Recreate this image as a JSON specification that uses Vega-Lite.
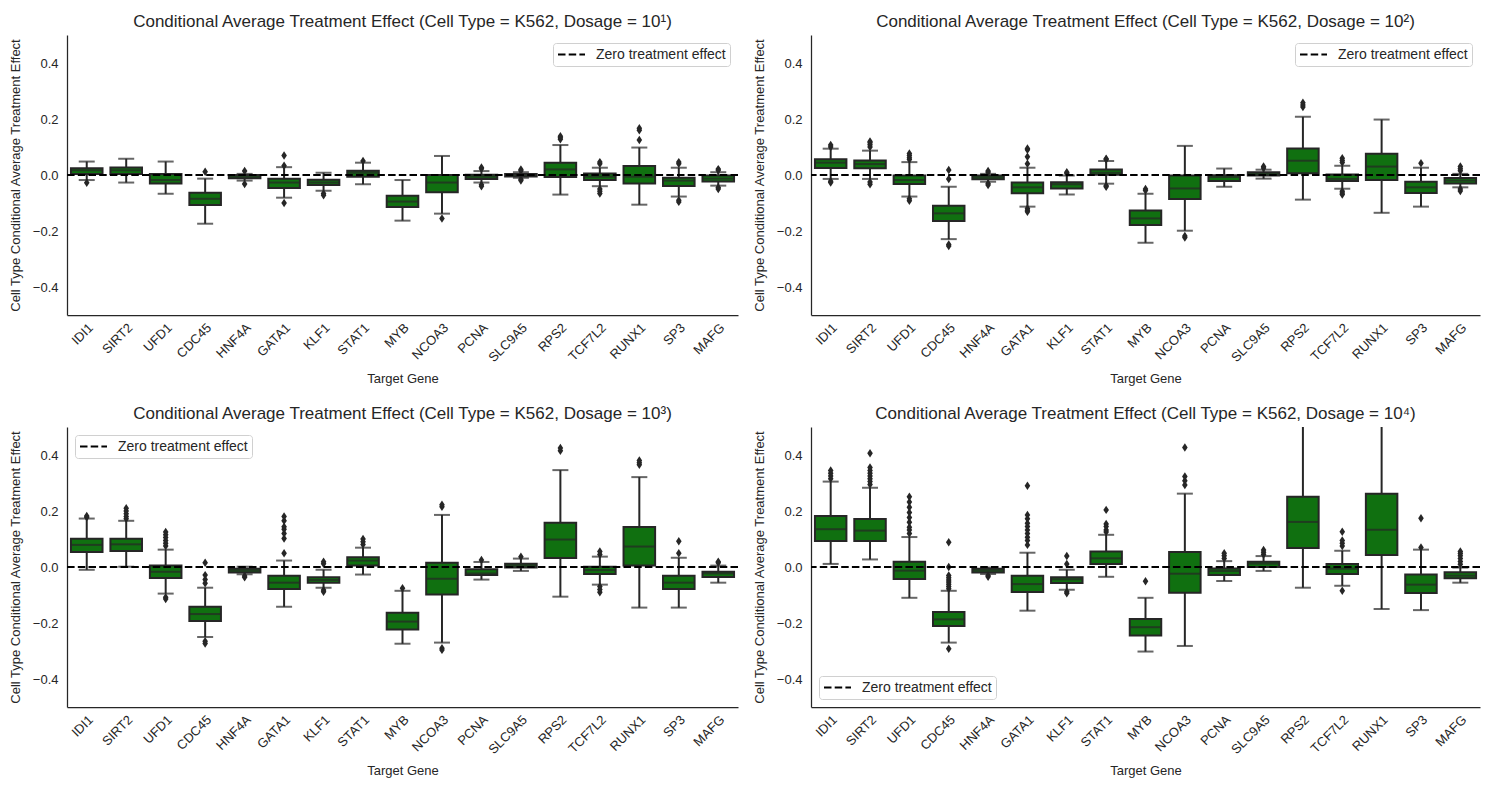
{
  "$schema": "https://vega.github.io/schema/vega-lite/v6.json",
  "background": "white",
  "padding": {"left": 9, "top": 13, "right": 5, "bottom": 5},
  "datasets": {
    "box": [
      {"d":1,"g":"IDI1","lw":-0.018,"q1":0.004,"m":0.017,"q3":0.024,"uw":0.048},
      {"d":1,"g":"SIRT2","lw":-0.027,"q1":0.004,"m":0.017,"q3":0.027,"uw":0.058},
      {"d":1,"g":"UFD1","lw":-0.067,"q1":-0.030,"m":-0.018,"q3":0.004,"uw":0.048},
      {"d":1,"g":"CDC45","lw":-0.174,"q1":-0.107,"m":-0.085,"q3":-0.063,"uw":-0.013},
      {"d":1,"g":"HNF4A","lw":-0.020,"q1":-0.012,"m":-0.006,"q3":0.000,"uw":0.004},
      {"d":1,"g":"GATA1","lw":-0.081,"q1":-0.046,"m":-0.027,"q3":-0.013,"uw":0.028},
      {"d":1,"g":"KLF1","lw":-0.056,"q1":-0.036,"m":-0.027,"q3":-0.017,"uw":0.008},
      {"d":1,"g":"STAT1","lw":-0.033,"q1":-0.006,"m":0.008,"q3":0.015,"uw":0.044},
      {"d":1,"g":"MYB","lw":-0.163,"q1":-0.114,"m":-0.095,"q3":-0.074,"uw":-0.018},
      {"d":1,"g":"NCOA3","lw":-0.138,"q1":-0.062,"m":-0.027,"q3":0.000,"uw":0.068},
      {"d":1,"g":"PCNA","lw":-0.027,"q1":-0.014,"m":-0.006,"q3":0.001,"uw":0.014},
      {"d":1,"g":"SLC9A5","lw":-0.010,"q1":-0.005,"m":0.000,"q3":0.004,"uw":0.010},
      {"d":1,"g":"RPS2","lw":-0.070,"q1":-0.007,"m":0.020,"q3":0.044,"uw":0.107},
      {"d":1,"g":"TCF7L2","lw":-0.040,"q1":-0.018,"m":-0.006,"q3":0.005,"uw":0.026},
      {"d":1,"g":"RUNX1","lw":-0.106,"q1":-0.030,"m":-0.006,"q3":0.032,"uw":0.098},
      {"d":1,"g":"SP3","lw":-0.077,"q1":-0.039,"m":-0.020,"q3":-0.010,"uw":0.026},
      {"d":1,"g":"MAFG","lw":-0.038,"q1":-0.023,"m":-0.013,"q3":-0.002,"uw":0.010},

      {"d":2,"g":"IDI1","lw":-0.014,"q1":0.025,"m":0.044,"q3":0.056,"uw":0.094},
      {"d":2,"g":"SIRT2","lw":-0.014,"q1":0.024,"m":0.039,"q3":0.052,"uw":0.087},
      {"d":2,"g":"UFD1","lw":-0.077,"q1":-0.032,"m":-0.018,"q3":-0.002,"uw":0.046},
      {"d":2,"g":"CDC45","lw":-0.229,"q1":-0.164,"m":-0.137,"q3":-0.110,"uw":-0.042},
      {"d":2,"g":"HNF4A","lw":-0.024,"q1":-0.015,"m":-0.008,"q3":-0.002,"uw":0.004},
      {"d":2,"g":"GATA1","lw":-0.113,"q1":-0.065,"m":-0.044,"q3":-0.027,"uw":0.026},
      {"d":2,"g":"KLF1","lw":-0.070,"q1":-0.048,"m":-0.033,"q3":-0.026,"uw":-0.002},
      {"d":2,"g":"STAT1","lw":-0.031,"q1":0.001,"m":0.008,"q3":0.020,"uw":0.050},
      {"d":2,"g":"MYB","lw":-0.242,"q1":-0.179,"m":-0.155,"q3":-0.127,"uw":-0.067},
      {"d":2,"g":"NCOA3","lw":-0.199,"q1":-0.086,"m":-0.048,"q3":-0.002,"uw":0.104},
      {"d":2,"g":"PCNA","lw":-0.042,"q1":-0.021,"m":-0.007,"q3":-0.001,"uw":0.023},
      {"d":2,"g":"SLC9A5","lw":-0.013,"q1":-0.002,"m":0.004,"q3":0.010,"uw":0.019},
      {"d":2,"g":"RPS2","lw":-0.088,"q1":0.006,"m":0.051,"q3":0.095,"uw":0.208},
      {"d":2,"g":"TCF7L2","lw":-0.049,"q1":-0.021,"m":-0.014,"q3":0.002,"uw":0.033},
      {"d":2,"g":"RUNX1","lw":-0.135,"q1":-0.018,"m":0.030,"q3":0.076,"uw":0.198},
      {"d":2,"g":"SP3","lw":-0.113,"q1":-0.064,"m":-0.044,"q3":-0.024,"uw":0.026},
      {"d":2,"g":"MAFG","lw":-0.044,"q1":-0.030,"m":-0.020,"q3":-0.011,"uw":0.004},

      {"d":3,"g":"IDI1","lw":-0.010,"q1":0.054,"m":0.079,"q3":0.101,"uw":0.173},
      {"d":3,"g":"SIRT2","lw":0.001,"q1":0.057,"m":0.081,"q3":0.101,"uw":0.165},
      {"d":3,"g":"UFD1","lw":-0.095,"q1":-0.039,"m":-0.017,"q3":0.005,"uw":0.062},
      {"d":3,"g":"CDC45","lw":-0.250,"q1":-0.193,"m":-0.168,"q3":-0.142,"uw":-0.074},
      {"d":3,"g":"HNF4A","lw":-0.026,"q1":-0.020,"m":-0.013,"q3":-0.006,"uw":0.001},
      {"d":3,"g":"GATA1","lw":-0.142,"q1":-0.079,"m":-0.056,"q3":-0.031,"uw":0.023},
      {"d":3,"g":"KLF1","lw":-0.074,"q1":-0.056,"m":-0.046,"q3":-0.037,"uw":-0.010},
      {"d":3,"g":"STAT1","lw":-0.027,"q1":0.005,"m":0.023,"q3":0.035,"uw":0.069},
      {"d":3,"g":"MYB","lw":-0.274,"q1":-0.223,"m":-0.195,"q3":-0.163,"uw":-0.085},
      {"d":3,"g":"NCOA3","lw":-0.270,"q1":-0.098,"m":-0.042,"q3":0.015,"uw":0.186},
      {"d":3,"g":"PCNA","lw":-0.045,"q1":-0.029,"m":-0.023,"q3":-0.008,"uw":0.018},
      {"d":3,"g":"SLC9A5","lw":-0.014,"q1":-0.002,"m":0.005,"q3":0.012,"uw":0.030},
      {"d":3,"g":"RPS2","lw":-0.106,"q1":0.032,"m":0.098,"q3":0.158,"uw":0.346},
      {"d":3,"g":"TCF7L2","lw":-0.063,"q1":-0.025,"m":-0.011,"q3":0.001,"uw":0.037},
      {"d":3,"g":"RUNX1","lw":-0.145,"q1":0.005,"m":0.073,"q3":0.143,"uw":0.321},
      {"d":3,"g":"SP3","lw":-0.145,"q1":-0.079,"m":-0.056,"q3":-0.031,"uw":0.033},
      {"d":3,"g":"MAFG","lw":-0.056,"q1":-0.036,"m":-0.023,"q3":-0.017,"uw":0.005},

      {"d":4,"g":"IDI1","lw":0.011,"q1":0.093,"m":0.135,"q3":0.182,"uw":0.305},
      {"d":4,"g":"SIRT2","lw":0.027,"q1":0.093,"m":0.130,"q3":0.171,"uw":0.283},
      {"d":4,"g":"UFD1","lw":-0.110,"q1":-0.043,"m":-0.013,"q3":0.019,"uw":0.107},
      {"d":4,"g":"CDC45","lw":-0.270,"q1":-0.211,"m":-0.187,"q3":-0.161,"uw":-0.085},
      {"d":4,"g":"HNF4A","lw":-0.025,"q1":-0.020,"m":-0.013,"q3":-0.006,"uw":-0.002},
      {"d":4,"g":"GATA1","lw":-0.156,"q1":-0.089,"m":-0.061,"q3":-0.031,"uw":0.051},
      {"d":4,"g":"KLF1","lw":-0.081,"q1":-0.057,"m":-0.044,"q3":-0.037,"uw":-0.010},
      {"d":4,"g":"STAT1","lw":-0.035,"q1":0.011,"m":0.031,"q3":0.055,"uw":0.115},
      {"d":4,"g":"MYB","lw":-0.302,"q1":-0.245,"m":-0.215,"q3":-0.186,"uw":-0.110},
      {"d":4,"g":"NCOA3","lw":-0.282,"q1":-0.092,"m":-0.024,"q3":0.054,"uw":0.262},
      {"d":4,"g":"PCNA","lw":-0.050,"q1":-0.029,"m":-0.014,"q3":-0.005,"uw":0.021},
      {"d":4,"g":"SLC9A5","lw":-0.014,"q1":0.000,"m":0.012,"q3":0.019,"uw":0.039},
      {"d":4,"g":"RPS2","lw":-0.074,"q1":0.068,"m":0.161,"q3":0.251,"uw":0.56},
      {"d":4,"g":"TCF7L2","lw":-0.067,"q1":-0.025,"m":-0.006,"q3":0.011,"uw":0.058},
      {"d":4,"g":"RUNX1","lw":-0.150,"q1":0.043,"m":0.133,"q3":0.262,"uw":0.6},
      {"d":4,"g":"SP3","lw":-0.154,"q1":-0.093,"m":-0.063,"q3":-0.027,"uw":0.062},
      {"d":4,"g":"MAFG","lw":-0.056,"q1":-0.040,"m":-0.031,"q3":-0.019,"uw":-0.002}
    ],
    "out": [
      {"d":1,"g":"IDI1","v":-0.028},
      {"d":1,"g":"CDC45","v":0.012},
      {"d":1,"g":"HNF4A","v":0.014},{"d":1,"g":"HNF4A","v":-0.032},
      {"d":1,"g":"GATA1","v":0.033},{"d":1,"g":"GATA1","v":0.07},{"d":1,"g":"GATA1","v":-0.1},
      {"d":1,"g":"KLF1","v":-0.066},{"d":1,"g":"KLF1","v":-0.072},
      {"d":1,"g":"STAT1","v":0.05},
      {"d":1,"g":"NCOA3","v":-0.155},
      {"d":1,"g":"PCNA","v":0.022},{"d":1,"g":"PCNA","v":0.027},{"d":1,"g":"PCNA","v":-0.035},{"d":1,"g":"PCNA","v":-0.04},
      {"d":1,"g":"SLC9A5","v":0.015},{"d":1,"g":"SLC9A5","v":0.02},{"d":1,"g":"SLC9A5","v":-0.015},{"d":1,"g":"SLC9A5","v":-0.02},
      {"d":1,"g":"RPS2","v":0.128},{"d":1,"g":"RPS2","v":0.133},{"d":1,"g":"RPS2","v":0.138},
      {"d":1,"g":"TCF7L2","v":0.04},{"d":1,"g":"TCF7L2","v":0.046},{"d":1,"g":"TCF7L2","v":-0.05},{"d":1,"g":"TCF7L2","v":-0.058},{"d":1,"g":"TCF7L2","v":-0.066},
      {"d":1,"g":"RUNX1","v":0.125},{"d":1,"g":"RUNX1","v":0.16},{"d":1,"g":"RUNX1","v":0.167},
      {"d":1,"g":"SP3","v":0.04},{"d":1,"g":"SP3","v":0.046},{"d":1,"g":"SP3","v":-0.09},{"d":1,"g":"SP3","v":-0.096},
      {"d":1,"g":"MAFG","v":0.017},{"d":1,"g":"MAFG","v":0.021},{"d":1,"g":"MAFG","v":-0.045},{"d":1,"g":"MAFG","v":-0.05},

      {"d":2,"g":"IDI1","v":0.1},{"d":2,"g":"IDI1","v":0.107},{"d":2,"g":"IDI1","v":-0.022},{"d":2,"g":"IDI1","v":-0.027},
      {"d":2,"g":"SIRT2","v":0.1},{"d":2,"g":"SIRT2","v":0.108},{"d":2,"g":"SIRT2","v":0.115},{"d":2,"g":"SIRT2","v":0.12},{"d":2,"g":"SIRT2","v":-0.025},{"d":2,"g":"SIRT2","v":-0.033},
      {"d":2,"g":"UFD1","v":0.055},{"d":2,"g":"UFD1","v":0.062},{"d":2,"g":"UFD1","v":0.07},{"d":2,"g":"UFD1","v":0.077},{"d":2,"g":"UFD1","v":-0.085},{"d":2,"g":"UFD1","v":-0.092},
      {"d":2,"g":"CDC45","v":0.018},{"d":2,"g":"CDC45","v":-0.014},{"d":2,"g":"CDC45","v":-0.248},{"d":2,"g":"CDC45","v":-0.254},
      {"d":2,"g":"HNF4A","v":0.01},{"d":2,"g":"HNF4A","v":0.014},{"d":2,"g":"HNF4A","v":-0.03},{"d":2,"g":"HNF4A","v":-0.036},
      {"d":2,"g":"GATA1","v":0.04},{"d":2,"g":"GATA1","v":0.065},{"d":2,"g":"GATA1","v":0.09},{"d":2,"g":"GATA1","v":0.095},{"d":2,"g":"GATA1","v":-0.12},{"d":2,"g":"GATA1","v":-0.126},{"d":2,"g":"GATA1","v":-0.131},
      {"d":2,"g":"KLF1","v":0.006},{"d":2,"g":"KLF1","v":0.01},
      {"d":2,"g":"STAT1","v":0.055},{"d":2,"g":"STAT1","v":0.058},{"d":2,"g":"STAT1","v":-0.038},{"d":2,"g":"STAT1","v":-0.042},
      {"d":2,"g":"MYB","v":-0.05},{"d":2,"g":"MYB","v":-0.055},
      {"d":2,"g":"NCOA3","v":-0.218},{"d":2,"g":"NCOA3","v":-0.223},
      {"d":2,"g":"SLC9A5","v":0.025},{"d":2,"g":"SLC9A5","v":0.03},
      {"d":2,"g":"RPS2","v":0.243},{"d":2,"g":"RPS2","v":0.25},{"d":2,"g":"RPS2","v":0.258},
      {"d":2,"g":"TCF7L2","v":0.045},{"d":2,"g":"TCF7L2","v":0.052},{"d":2,"g":"TCF7L2","v":0.06},{"d":2,"g":"TCF7L2","v":-0.058},{"d":2,"g":"TCF7L2","v":-0.064},{"d":2,"g":"TCF7L2","v":-0.07},
      {"d":2,"g":"SP3","v":0.042},
      {"d":2,"g":"MAFG","v":0.015},{"d":2,"g":"MAFG","v":0.022},{"d":2,"g":"MAFG","v":0.03},{"d":2,"g":"MAFG","v":-0.05},{"d":2,"g":"MAFG","v":-0.057},

      {"d":3,"g":"IDI1","v":0.178},{"d":3,"g":"IDI1","v":0.182},
      {"d":3,"g":"SIRT2","v":0.172},{"d":3,"g":"SIRT2","v":0.18},{"d":3,"g":"SIRT2","v":0.19},{"d":3,"g":"SIRT2","v":0.2},{"d":3,"g":"SIRT2","v":0.21},
      {"d":3,"g":"UFD1","v":0.075},{"d":3,"g":"UFD1","v":0.085},{"d":3,"g":"UFD1","v":0.095},{"d":3,"g":"UFD1","v":0.105},{"d":3,"g":"UFD1","v":0.115},{"d":3,"g":"UFD1","v":0.125},{"d":3,"g":"UFD1","v":-0.108},{"d":3,"g":"UFD1","v":-0.114},
      {"d":3,"g":"CDC45","v":0.015},{"d":3,"g":"CDC45","v":-0.029},{"d":3,"g":"CDC45","v":-0.045},{"d":3,"g":"CDC45","v":-0.058},{"d":3,"g":"CDC45","v":-0.265},{"d":3,"g":"CDC45","v":-0.273},
      {"d":3,"g":"HNF4A","v":-0.032},{"d":3,"g":"HNF4A","v":-0.037},
      {"d":3,"g":"GATA1","v":0.049},{"d":3,"g":"GATA1","v":0.102},{"d":3,"g":"GATA1","v":0.12},{"d":3,"g":"GATA1","v":0.135},{"d":3,"g":"GATA1","v":0.144},{"d":3,"g":"GATA1","v":0.165},{"d":3,"g":"GATA1","v":0.18},
      {"d":3,"g":"KLF1","v":0.012},{"d":3,"g":"KLF1","v":0.019},{"d":3,"g":"KLF1","v":-0.082},{"d":3,"g":"KLF1","v":-0.088},
      {"d":3,"g":"STAT1","v":0.08},{"d":3,"g":"STAT1","v":0.09},{"d":3,"g":"STAT1","v":0.1},
      {"d":3,"g":"MYB","v":-0.076},
      {"d":3,"g":"NCOA3","v":0.215},{"d":3,"g":"NCOA3","v":0.222},{"d":3,"g":"NCOA3","v":-0.29},{"d":3,"g":"NCOA3","v":-0.296},
      {"d":3,"g":"PCNA","v":0.025},
      {"d":3,"g":"SLC9A5","v":0.037},
      {"d":3,"g":"RPS2","v":0.415},{"d":3,"g":"RPS2","v":0.425},
      {"d":3,"g":"TCF7L2","v":0.045},{"d":3,"g":"TCF7L2","v":0.055},{"d":3,"g":"TCF7L2","v":-0.07},{"d":3,"g":"TCF7L2","v":-0.08},{"d":3,"g":"TCF7L2","v":-0.09},
      {"d":3,"g":"RUNX1","v":0.365},{"d":3,"g":"RUNX1","v":0.372},{"d":3,"g":"RUNX1","v":0.38},
      {"d":3,"g":"SP3","v":0.049},{"d":3,"g":"SP3","v":0.092},
      {"d":3,"g":"MAFG","v":0.015},{"d":3,"g":"MAFG","v":0.019},

      {"d":4,"g":"IDI1","v":0.315},{"d":4,"g":"IDI1","v":0.325},{"d":4,"g":"IDI1","v":0.335},{"d":4,"g":"IDI1","v":0.345},
      {"d":4,"g":"SIRT2","v":0.295},{"d":4,"g":"SIRT2","v":0.305},{"d":4,"g":"SIRT2","v":0.315},{"d":4,"g":"SIRT2","v":0.325},{"d":4,"g":"SIRT2","v":0.335},{"d":4,"g":"SIRT2","v":0.345},{"d":4,"g":"SIRT2","v":0.355},{"d":4,"g":"SIRT2","v":0.406},
      {"d":4,"g":"UFD1","v":0.12},{"d":4,"g":"UFD1","v":0.132},{"d":4,"g":"UFD1","v":0.142},{"d":4,"g":"UFD1","v":0.16},{"d":4,"g":"UFD1","v":0.177},{"d":4,"g":"UFD1","v":0.195},{"d":4,"g":"UFD1","v":0.213},{"d":4,"g":"UFD1","v":0.232},{"d":4,"g":"UFD1","v":0.251},
      {"d":4,"g":"CDC45","v":0.088},{"d":4,"g":"CDC45","v":0.0},{"d":4,"g":"CDC45","v":-0.03},{"d":4,"g":"CDC45","v":-0.038},{"d":4,"g":"CDC45","v":-0.046},{"d":4,"g":"CDC45","v":-0.054},{"d":4,"g":"CDC45","v":-0.062},{"d":4,"g":"CDC45","v":-0.07},{"d":4,"g":"CDC45","v":-0.078},{"d":4,"g":"CDC45","v":-0.292},
      {"d":4,"g":"HNF4A","v":-0.03},{"d":4,"g":"HNF4A","v":-0.035},
      {"d":4,"g":"GATA1","v":0.079},{"d":4,"g":"GATA1","v":0.095},{"d":4,"g":"GATA1","v":0.106},{"d":4,"g":"GATA1","v":0.12},{"d":4,"g":"GATA1","v":0.132},{"d":4,"g":"GATA1","v":0.145},{"d":4,"g":"GATA1","v":0.156},{"d":4,"g":"GATA1","v":0.172},{"d":4,"g":"GATA1","v":0.186},{"d":4,"g":"GATA1","v":0.29},
      {"d":4,"g":"KLF1","v":0.011},{"d":4,"g":"KLF1","v":0.039},{"d":4,"g":"KLF1","v":-0.088},{"d":4,"g":"KLF1","v":-0.094},
      {"d":4,"g":"STAT1","v":0.125},{"d":4,"g":"STAT1","v":0.132},{"d":4,"g":"STAT1","v":0.145},{"d":4,"g":"STAT1","v":0.154},{"d":4,"g":"STAT1","v":0.204},
      {"d":4,"g":"MYB","v":-0.051},
      {"d":4,"g":"NCOA3","v":0.293},{"d":4,"g":"NCOA3","v":0.308},{"d":4,"g":"NCOA3","v":0.323},{"d":4,"g":"NCOA3","v":0.427},
      {"d":4,"g":"PCNA","v":0.03},{"d":4,"g":"PCNA","v":0.04},{"d":4,"g":"PCNA","v":0.049},
      {"d":4,"g":"SLC9A5","v":0.045},{"d":4,"g":"SLC9A5","v":0.053},{"d":4,"g":"SLC9A5","v":0.061},
      {"d":4,"g":"TCF7L2","v":0.075},{"d":4,"g":"TCF7L2","v":0.085},{"d":4,"g":"TCF7L2","v":0.095},{"d":4,"g":"TCF7L2","v":0.126},{"d":4,"g":"TCF7L2","v":-0.085},
      {"d":4,"g":"SP3","v":0.07},{"d":4,"g":"SP3","v":0.174},
      {"d":4,"g":"MAFG","v":0.01},{"d":4,"g":"MAFG","v":0.02},{"d":4,"g":"MAFG","v":0.03},{"d":4,"g":"MAFG","v":0.04},{"d":4,"g":"MAFG","v":0.048},{"d":4,"g":"MAFG","v":0.055}
    ]
  },
  "columns": 2,
  "spacing": {"row": 19, "column": 14},
  "resolve": {"legend": {"strokeDash": "independent"}},
  "concat": [
    {
      "title": "Conditional Average Treatment Effect (Cell Type = K562, Dosage = 10¹)",
      "width": 671, "height": 280,
      "layer": [
        {
          "data": {"name": "box"},
          "transform": [{"filter": "datum.d == 1"}],
          "encoding": {"x": {"field": "g", "type": "nominal", "title": "Target Gene", "scale": {"domain": ["IDI1","SIRT2","UFD1","CDC45","HNF4A","GATA1","KLF1","STAT1","MYB","NCOA3","PCNA","SLC9A5","RPS2","TCF7L2","RUNX1","SP3","MAFG"], "paddingInner": 0.2, "paddingOuter": 0.1}, "axis": {"labelAngle": -45, "encode": {"labels": {"update": {"dx": {"signal": "2.05*length(datum.label)-3.25"}, "dy": {"signal": "2.05*length(datum.label)-3.25"}}}}}}},
          "layer": [
            {"mark": {"type": "rule", "color": "#262626", "strokeWidth": 2, "clip": true}, "encoding": {"y": {"field": "lw", "type": "quantitative", "title": "Cell Type Conditional Average Treatment Effect", "scale": {"domain": [-0.5, 0.5], "nice": false, "zero": false}, "axis": {"values": [-0.4, -0.2, 0, 0.2, 0.4], "format": ".1f"}}, "y2": {"field": "uw"}}},
            {"mark": {"type": "tick", "color": "#262626", "thickness": 2, "size": 16, "clip": true}, "encoding": {"y": {"field": "lw", "type": "quantitative", "title": "Cell Type Conditional Average Treatment Effect"}}},
            {"mark": {"type": "tick", "color": "#262626", "thickness": 2, "size": 16, "clip": true}, "encoding": {"y": {"field": "uw", "type": "quantitative", "title": "Cell Type Conditional Average Treatment Effect"}}},
            {"mark": {"type": "bar", "fill": "#107010", "stroke": "#262626", "strokeWidth": 2}, "encoding": {"y": {"field": "q1", "type": "quantitative", "title": "Cell Type Conditional Average Treatment Effect"}, "y2": {"field": "q3"}}},
            {"mark": {"type": "tick", "color": "#262626", "thickness": 2, "size": 31}, "encoding": {"y": {"field": "m", "type": "quantitative", "title": "Cell Type Conditional Average Treatment Effect"}}},
            {"data": {"name": "out"}, "transform": [{"filter": "datum.d == 1"}], "mark": {"type": "point", "shape": "M0,-1L0.66,0L0,1L-0.66,0Z", "filled": true, "color": "#262626", "opacity": 1, "size": 72}, "encoding": {"y": {"field": "v", "type": "quantitative", "title": "Cell Type Conditional Average Treatment Effect"}}}
          ]
        },
        {
          "data": {"values": [{"s": "Zero treatment effect"}]},
          "mark": {"type": "rule", "color": "black", "strokeWidth": 2},
          "encoding": {"y": {"datum": 0, "type": "quantitative", "title": "Cell Type Conditional Average Treatment Effect"}, "strokeDash": {"field": "s", "type": "nominal", "scale": {"range": [[7.5, 3.2]]}, "legend": {"title": null, "orient": "top-right"}}}
        }
      ]
    },
    {
      "title": "Conditional Average Treatment Effect (Cell Type = K562, Dosage = 10²)",
      "width": 669, "height": 280,
      "layer": [
        {
          "data": {"name": "box"},
          "transform": [{"filter": "datum.d == 2"}],
          "encoding": {"x": {"field": "g", "type": "nominal", "title": "Target Gene", "scale": {"domain": ["IDI1","SIRT2","UFD1","CDC45","HNF4A","GATA1","KLF1","STAT1","MYB","NCOA3","PCNA","SLC9A5","RPS2","TCF7L2","RUNX1","SP3","MAFG"], "paddingInner": 0.2, "paddingOuter": 0.1}, "axis": {"labelAngle": -45, "encode": {"labels": {"update": {"dx": {"signal": "2.05*length(datum.label)-3.25"}, "dy": {"signal": "2.05*length(datum.label)-3.25"}}}}}}},
          "layer": [
            {"mark": {"type": "rule", "color": "#262626", "strokeWidth": 2, "clip": true}, "encoding": {"y": {"field": "lw", "type": "quantitative", "title": "Cell Type Conditional Average Treatment Effect", "scale": {"domain": [-0.5, 0.5], "nice": false, "zero": false}, "axis": {"values": [-0.4, -0.2, 0, 0.2, 0.4], "format": ".1f"}}, "y2": {"field": "uw"}}},
            {"mark": {"type": "tick", "color": "#262626", "thickness": 2, "size": 16, "clip": true}, "encoding": {"y": {"field": "lw", "type": "quantitative", "title": "Cell Type Conditional Average Treatment Effect"}}},
            {"mark": {"type": "tick", "color": "#262626", "thickness": 2, "size": 16, "clip": true}, "encoding": {"y": {"field": "uw", "type": "quantitative", "title": "Cell Type Conditional Average Treatment Effect"}}},
            {"mark": {"type": "bar", "fill": "#107010", "stroke": "#262626", "strokeWidth": 2}, "encoding": {"y": {"field": "q1", "type": "quantitative", "title": "Cell Type Conditional Average Treatment Effect"}, "y2": {"field": "q3"}}},
            {"mark": {"type": "tick", "color": "#262626", "thickness": 2, "size": 31}, "encoding": {"y": {"field": "m", "type": "quantitative", "title": "Cell Type Conditional Average Treatment Effect"}}},
            {"data": {"name": "out"}, "transform": [{"filter": "datum.d == 2"}], "mark": {"type": "point", "shape": "M0,-1L0.66,0L0,1L-0.66,0Z", "filled": true, "color": "#262626", "opacity": 1, "size": 72}, "encoding": {"y": {"field": "v", "type": "quantitative", "title": "Cell Type Conditional Average Treatment Effect"}}}
          ]
        },
        {
          "data": {"values": [{"s": "Zero treatment effect"}]},
          "mark": {"type": "rule", "color": "black", "strokeWidth": 2},
          "encoding": {"y": {"datum": 0, "type": "quantitative", "title": "Cell Type Conditional Average Treatment Effect"}, "strokeDash": {"field": "s", "type": "nominal", "scale": {"range": [[7.5, 3.2]]}, "legend": {"title": null, "orient": "top-right"}}}
        }
      ]
    },
    {
      "title": "Conditional Average Treatment Effect (Cell Type = K562, Dosage = 10³)",
      "width": 671, "height": 280,
      "layer": [
        {
          "data": {"name": "box"},
          "transform": [{"filter": "datum.d == 3"}],
          "encoding": {"x": {"field": "g", "type": "nominal", "title": "Target Gene", "scale": {"domain": ["IDI1","SIRT2","UFD1","CDC45","HNF4A","GATA1","KLF1","STAT1","MYB","NCOA3","PCNA","SLC9A5","RPS2","TCF7L2","RUNX1","SP3","MAFG"], "paddingInner": 0.2, "paddingOuter": 0.1}, "axis": {"labelAngle": -45, "encode": {"labels": {"update": {"dx": {"signal": "2.05*length(datum.label)-3.25"}, "dy": {"signal": "2.05*length(datum.label)-3.25"}}}}}}},
          "layer": [
            {"mark": {"type": "rule", "color": "#262626", "strokeWidth": 2, "clip": true}, "encoding": {"y": {"field": "lw", "type": "quantitative", "title": "Cell Type Conditional Average Treatment Effect", "scale": {"domain": [-0.5, 0.5], "nice": false, "zero": false}, "axis": {"values": [-0.4, -0.2, 0, 0.2, 0.4], "format": ".1f"}}, "y2": {"field": "uw"}}},
            {"mark": {"type": "tick", "color": "#262626", "thickness": 2, "size": 16, "clip": true}, "encoding": {"y": {"field": "lw", "type": "quantitative", "title": "Cell Type Conditional Average Treatment Effect"}}},
            {"mark": {"type": "tick", "color": "#262626", "thickness": 2, "size": 16, "clip": true}, "encoding": {"y": {"field": "uw", "type": "quantitative", "title": "Cell Type Conditional Average Treatment Effect"}}},
            {"mark": {"type": "bar", "fill": "#107010", "stroke": "#262626", "strokeWidth": 2}, "encoding": {"y": {"field": "q1", "type": "quantitative", "title": "Cell Type Conditional Average Treatment Effect"}, "y2": {"field": "q3"}}},
            {"mark": {"type": "tick", "color": "#262626", "thickness": 2, "size": 31}, "encoding": {"y": {"field": "m", "type": "quantitative", "title": "Cell Type Conditional Average Treatment Effect"}}},
            {"data": {"name": "out"}, "transform": [{"filter": "datum.d == 3"}], "mark": {"type": "point", "shape": "M0,-1L0.66,0L0,1L-0.66,0Z", "filled": true, "color": "#262626", "opacity": 1, "size": 72}, "encoding": {"y": {"field": "v", "type": "quantitative", "title": "Cell Type Conditional Average Treatment Effect"}}}
          ]
        },
        {
          "data": {"values": [{"s": "Zero treatment effect"}]},
          "mark": {"type": "rule", "color": "black", "strokeWidth": 2},
          "encoding": {"y": {"datum": 0, "type": "quantitative", "title": "Cell Type Conditional Average Treatment Effect"}, "strokeDash": {"field": "s", "type": "nominal", "scale": {"range": [[7.5, 3.2]]}, "legend": {"title": null, "orient": "top-left"}}}
        }
      ]
    },
    {
      "title": "Conditional Average Treatment Effect (Cell Type = K562, Dosage = 10⁴)",
      "width": 669, "height": 280,
      "layer": [
        {
          "data": {"name": "box"},
          "transform": [{"filter": "datum.d == 4"}],
          "encoding": {"x": {"field": "g", "type": "nominal", "title": "Target Gene", "scale": {"domain": ["IDI1","SIRT2","UFD1","CDC45","HNF4A","GATA1","KLF1","STAT1","MYB","NCOA3","PCNA","SLC9A5","RPS2","TCF7L2","RUNX1","SP3","MAFG"], "paddingInner": 0.2, "paddingOuter": 0.1}, "axis": {"labelAngle": -45, "encode": {"labels": {"update": {"dx": {"signal": "2.05*length(datum.label)-3.25"}, "dy": {"signal": "2.05*length(datum.label)-3.25"}}}}}}},
          "layer": [
            {"mark": {"type": "rule", "color": "#262626", "strokeWidth": 2, "clip": true}, "encoding": {"y": {"field": "lw", "type": "quantitative", "title": "Cell Type Conditional Average Treatment Effect", "scale": {"domain": [-0.5, 0.5], "nice": false, "zero": false}, "axis": {"values": [-0.4, -0.2, 0, 0.2, 0.4], "format": ".1f"}}, "y2": {"field": "uw"}}},
            {"mark": {"type": "tick", "color": "#262626", "thickness": 2, "size": 16, "clip": true}, "encoding": {"y": {"field": "lw", "type": "quantitative", "title": "Cell Type Conditional Average Treatment Effect"}}},
            {"mark": {"type": "tick", "color": "#262626", "thickness": 2, "size": 16, "clip": true}, "encoding": {"y": {"field": "uw", "type": "quantitative", "title": "Cell Type Conditional Average Treatment Effect"}}},
            {"mark": {"type": "bar", "fill": "#107010", "stroke": "#262626", "strokeWidth": 2}, "encoding": {"y": {"field": "q1", "type": "quantitative", "title": "Cell Type Conditional Average Treatment Effect"}, "y2": {"field": "q3"}}},
            {"mark": {"type": "tick", "color": "#262626", "thickness": 2, "size": 31}, "encoding": {"y": {"field": "m", "type": "quantitative", "title": "Cell Type Conditional Average Treatment Effect"}}},
            {"data": {"name": "out"}, "transform": [{"filter": "datum.d == 4"}], "mark": {"type": "point", "shape": "M0,-1L0.66,0L0,1L-0.66,0Z", "filled": true, "color": "#262626", "opacity": 1, "size": 72}, "encoding": {"y": {"field": "v", "type": "quantitative", "title": "Cell Type Conditional Average Treatment Effect"}}}
          ]
        },
        {
          "data": {"values": [{"s": "Zero treatment effect"}]},
          "mark": {"type": "rule", "color": "black", "strokeWidth": 2},
          "encoding": {"y": {"datum": 0, "type": "quantitative", "title": "Cell Type Conditional Average Treatment Effect"}, "strokeDash": {"field": "s", "type": "nominal", "scale": {"range": [[7.5, 3.2]]}, "legend": {"title": null, "orient": "bottom-left"}}}
        }
      ]
    }
  ],
  "config": {
    "font": "Liberation Sans",
    "view": {"stroke": null},
    "title": {"font": "Liberation Sans", "fontSize": 17, "fontWeight": "normal", "color": "#262626", "offset": 4},
    "axis": {"labelFont": "Liberation Sans", "labelFontSize": 13, "labelColor": "#262626", "titleFont": "Liberation Sans", "titleFontSize": 13, "titleFontWeight": "normal", "titleColor": "#262626", "domainColor": "#262626", "domainWidth": 1.25, "ticks": false, "grid": false},
    "axisX": {"labelPadding": 6, "titlePadding": 8},
    "axisY": {"labelPadding": 9, "titlePadding": 10},
    "legend": {"labelFont": "Liberation Sans", "labelFontSize": 14, "labelColor": "#262626", "fillColor": "white", "strokeColor": "#d0d0d0", "cornerRadius": 3, "padding": 4, "clipHeight": 15, "symbolType": "stroke", "symbolStrokeColor": "black", "symbolStrokeWidth": 2, "symbolSize": 729, "offset": 8, "labelOffset": 10}
  }
}
